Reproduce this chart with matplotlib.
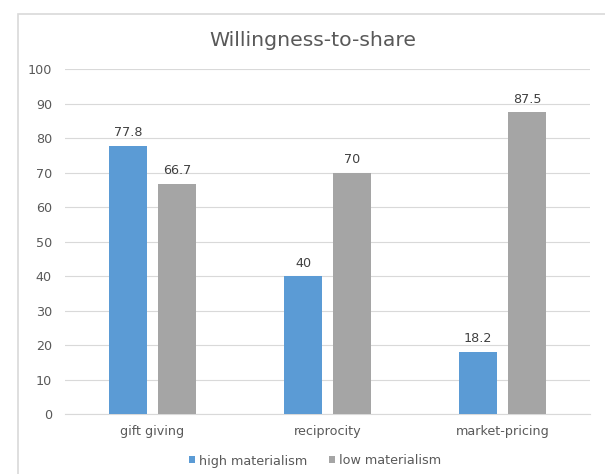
import matplotlib
matplotlib.use('Agg')
import matplotlib.pyplot as plt
import numpy as np
from matplotlib.patches import Rectangle

categories = ['gift giving', 'reciprocity', 'market-pricing']
high_materialism = [77.8, 40, 18.2]
low_materialism = [66.7, 70, 87.5]
series_names = ['high materialism', 'low materialism']
y_ticks = [0, 10, 20, 30, 40, 50, 60, 70, 80, 90, 100]

blue = '#5B9BD5'
gray = '#A5A5A5'
text_color = '#595959'
grid_color = '#D9D9D9'
fs = 9.2

fig = plt.figure(figsize=(6.05, 4.74), dpi=100)
ax = fig.add_axes([65 / 605, 1 - 414.3 / 474, 525 / 605, 345 / 474])

# chart border like Excel, runs off the right and bottom edge
fig.patches.append(Rectangle((18 / 605, -0.1), 1.2, 1 - 14 / 474 + 0.1, transform=fig.transFigure,
                             fill=False, edgecolor=grid_color, linewidth=1.2, clip_on=False))

x = np.arange(len(categories))
width = 0.22
offset = 0.14
b1 = ax.bar(x - offset, high_materialism, width, color=blue, label=series_names[0], zorder=3)
b2 = ax.bar(x + offset, low_materialism, width, color=gray, label=series_names[1], zorder=3)

for bars, vals in [(b1, high_materialism), (b2, low_materialism)]:
    for bar, v in zip(bars, vals):
        ax.annotate(str(v), (bar.get_x() + bar.get_width() / 2, v), xytext=(0, 7),
                    textcoords='offset points', ha='center', va='baseline',
                    fontsize=fs, color='#404040')

ax.set_xlim(-0.5, 2.5)
ax.set_ylim(0, 100)
ax.set_yticks(y_ticks)
ax.set_xticks(x)
ax.set_xticklabels(categories)
ax.yaxis.grid(True, color=grid_color, linewidth=0.8, zorder=0)
for s in ['top', 'right', 'left']:
    ax.spines[s].set_visible(False)
ax.spines['bottom'].set_color(grid_color)
ax.tick_params(axis='both', length=0, labelsize=fs, colors=text_color)
ax.tick_params(axis='x', pad=8)
ax.tick_params(axis='y', pad=9.4)

fig.text(312.5 / 605, 1 - 46 / 474, 'Willingness-to-share', ha='center', va='baseline',
         fontsize=14.7, color=text_color)

fig.legend(handles=[b1, b2], loc='center', bbox_to_anchor=(315 / 605, 1 - 461 / 474), ncol=2,
           frameon=False, fontsize=fs, labelcolor=text_color, handlelength=0.47, handleheight=0.47,
           handletextpad=0.31, columnspacing=1.77, borderpad=0)

plt.savefig('out.png', dpi=100)
